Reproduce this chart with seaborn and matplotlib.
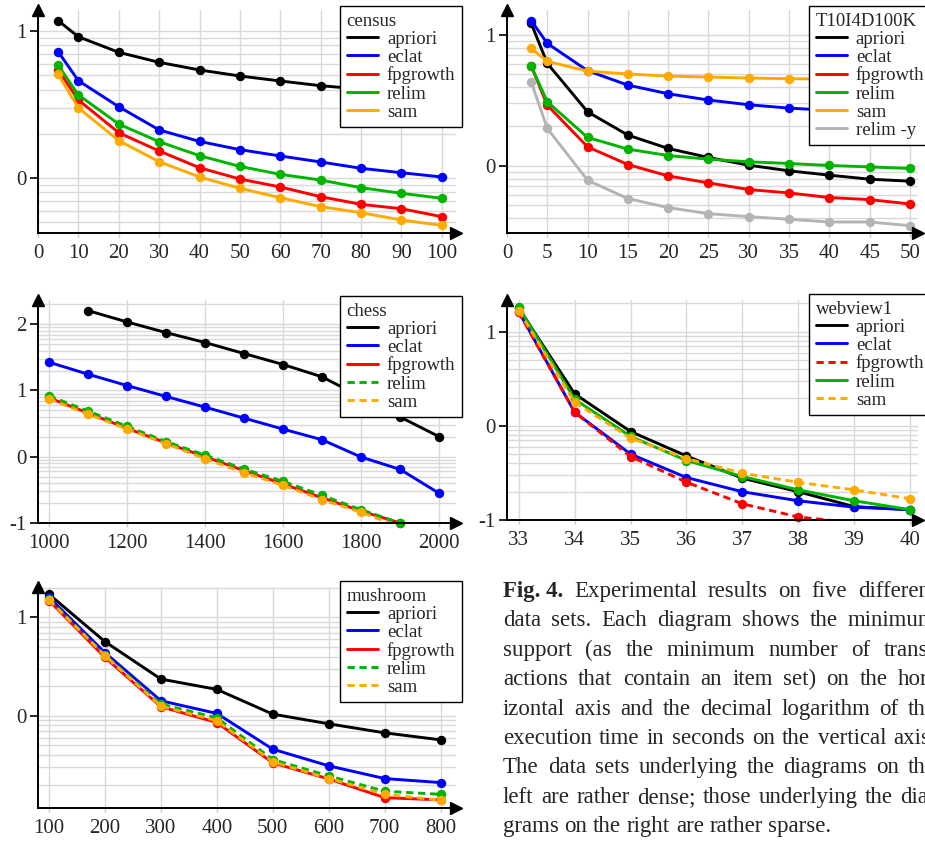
import numpy as np
import pandas as pd
import seaborn as sns
import matplotlib.pyplot as plt
from matplotlib.ticker import FixedLocator, FuncFormatter
from matplotlib.transforms import IdentityTransform

# decimal log of execution time (s) over minimum support
census_x = [5, 10, 20, 30, 40, 50, 60, 70, 80, 90, 100]
census_apriori = [1.070, 0.961, 0.855, 0.787, 0.735, 0.694, 0.660, 0.628, 0.605, 0.580, 0.560]
census_eclat = [0.859, 0.662, 0.485, 0.327, 0.249, 0.193, 0.150, 0.109, 0.066, 0.036, 0.007]
census_fpgrowth = [0.735, 0.531, 0.308, 0.184, 0.070, -0.007, -0.061, -0.127, -0.179, -0.209, -0.263]
census_relim = [0.766, 0.565, 0.367, 0.247, 0.152, 0.079, 0.025, -0.014, -0.066, -0.104, -0.138]
census_sam = [0.705, 0.478, 0.254, 0.111, 0.007, -0.070, -0.134, -0.195, -0.236, -0.286, -0.322]

t10_x = [3, 5, 10, 15, 20, 25, 30, 35, 40, 45, 50]
t10_apriori = [1.089, 0.783, 0.413, 0.235, 0.133, 0.064, 0.005, -0.038, -0.071, -0.102, -0.117]
t10_eclat = [1.110, 0.936, 0.727, 0.617, 0.551, 0.503, 0.467, 0.441, 0.425, 0.410, 0.400]
t10_fpgrowth = [0.763, 0.464, 0.145, 0.010, -0.077, -0.130, -0.181, -0.207, -0.242, -0.258, -0.291]
t10_relim = [0.763, 0.490, 0.217, 0.128, 0.079, 0.051, 0.031, 0.018, 0.003, -0.008, -0.020]
t10_sam = [0.898, 0.798, 0.724, 0.702, 0.686, 0.679, 0.671, 0.666, 0.663, 0.660, 0.658]
t10_relim_y = [0.643, 0.286, -0.110, -0.250, -0.319, -0.365, -0.388, -0.408, -0.429, -0.429, -0.457]

chess_x = [1000, 1100, 1200, 1300, 1400, 1500, 1600, 1700, 1800, 1900, 2000]
chess_apriori = [np.nan, 2.206, 2.035, 1.874, 1.724, 1.558, 1.392, 1.206, 0.900, 0.600, 0.302]
chess_eclat = [1.427, 1.246, 1.075, 0.910, 0.749, 0.583, 0.417, 0.256, -0.005, -0.191, -0.553]
chess_fpgrowth = [0.890, 0.660, 0.430, 0.210, 0.000, -0.210, -0.410, -0.620, -0.820, -1.000, np.nan]
chess_relim = [0.920, 0.690, 0.460, 0.230, 0.025, -0.186, -0.372, -0.583, -0.800, -1.000, np.nan]
chess_sam = [0.874, 0.643, 0.417, 0.196, -0.030, -0.241, -0.432, -0.648, -0.839, -1.060, np.nan]

webview_x = [33, 34, 35, 36, 37, 38, 39, 40]
webview_apriori = [1.250, 0.340, -0.060, -0.320, -0.556, -0.700, -0.858, -0.890]
webview_eclat = [1.214, 0.145, -0.300, -0.549, -0.700, -0.796, -0.864, -0.890]
webview_fpgrowth = [1.207, 0.145, -0.326, -0.598, -0.828, -0.968, -1.030, -1.080]
webview_relim = [1.260, 0.283, -0.113, -0.368, -0.538, -0.680, -0.796, -0.890]
webview_sam = [1.225, 0.250, -0.130, -0.347, -0.503, -0.600, -0.680, -0.775]

mushroom_x = [100, 200, 300, 400, 500, 600, 700, 800]
mushroom_apriori = [1.234, 0.753, 0.373, 0.268, 0.017, -0.081, -0.173, -0.244]
mushroom_eclat = [1.203, 0.641, 0.153, 0.024, -0.339, -0.508, -0.637, -0.678]
mushroom_fpgrowth = [1.170, 0.593, 0.092, -0.068, -0.478, -0.641, -0.831, -0.854]
mushroom_relim = [1.183, 0.617, 0.119, -0.020, -0.444, -0.610, -0.766, -0.797]
mushroom_sam = [1.176, 0.610, 0.098, -0.051, -0.468, -0.637, -0.797, -0.858]

colors = {'apriori': 'black', 'eclat': '#0000ff', 'fpgrowth': '#ff0000',
          'relim': '#00b400', 'sam': '#ffaa00', 'relim -y': '#b4b4b4'}

W, H = 925, 842

# each panel: name, axes rect in pixels (left, top, right, bottom), limits, ticks, series, dashed series, legend corner
panels = [
    ('census', (38, 10, 456, 233), (0, 103.5), (-0.374, 1.143), list(range(0, 101, 10)), [0, 1],
     census_x, [('apriori', census_apriori), ('eclat', census_eclat), ('fpgrowth', census_fpgrowth),
                ('relim', census_relim), ('sam', census_sam)], [], (340, 6)),
    ('T10I4D100K', (507, 10, 918, 233), (0, 51.0), (-0.513, 1.191), list(range(0, 51, 5)), [0, 1],
     t10_x, [('apriori', t10_apriori), ('eclat', t10_eclat), ('fpgrowth', t10_fpgrowth),
             ('relim', t10_relim), ('sam', t10_sam), ('relim -y', t10_relim_y)], [], (809, 6)),
    ('chess', (38, 300, 456, 523), (972, 2043), (-1.0, 2.366), list(range(1000, 2001, 200)), [-1, 0, 1, 2],
     chess_x, [('apriori', chess_apriori), ('eclat', chess_eclat), ('fpgrowth', chess_fpgrowth),
               ('relim', chess_relim), ('sam', chess_sam)], ['relim', 'sam'], (340, 296)),
    ('webview1', (507, 300, 918, 520), (32.79, 40.14), (-1.0, 1.337), list(range(33, 41)), [-1, 0, 1],
     webview_x, [('apriori', webview_apriori), ('eclat', webview_eclat), ('fpgrowth', webview_fpgrowth),
                 ('relim', webview_relim), ('sam', webview_sam)], ['fpgrowth', 'sam'], (809, 294)),
    ('mushroom', (38, 587, 456, 808), (80.3, 827.5), (-0.936, 1.308), list(range(100, 801, 100)), [0, 1],
     mushroom_x, [('apriori', mushroom_apriori), ('eclat', mushroom_eclat), ('fpgrowth', mushroom_fpgrowth),
                  ('relim', mushroom_relim), ('sam', mushroom_sam)], ['relim', 'sam'], (340, 581)),
]

sns.set_theme(style='white')
plt.rcParams['font.family'] = ['Liberation Serif', 'DejaVu Serif']
plt.rcParams['axes.unicode_minus'] = False

fig = plt.figure(figsize=(W / 100, H / 100), dpi=100)
grid_color = '#d9d9d9'

for name, (l, t, r, b), xlim, ylim, xticks, yticks, xs, series, dashed, (lx, ly) in panels:
    ax = fig.add_axes([l / W, 1 - b / H, (r - l) / W, (b - t) / H])

    for i, (algo, ys) in enumerate(series):
        df = pd.DataFrame({'x': xs, 'y': ys}).dropna()
        ls = (0, (2.5, 1.6)) if algo in dashed else '-'
        sns.lineplot(data=df, x='x', y='y', color=colors[algo], linewidth=2.1,
                     linestyle=ls, label=algo, ax=ax, zorder=2 + i * 0.1)
        pts = df[df['y'] >= ylim[0] - 0.005]
        sns.scatterplot(data=pts, x='x', y='y', color=colors[algo], s=46, linewidth=0,
                        ax=ax, clip_on=False, zorder=2.05 + i * 0.1, legend=False)

    ax.set_xlim(*xlim)
    ax.set_ylim(*ylim)
    ax.set_xlabel('')
    ax.set_ylabel('')

    # decimal-log minor grid between the integer ticks
    minor = []
    for k in range(int(np.floor(ylim[0])) - 1, int(np.ceil(ylim[1])) + 1):
        for m in range(2, 10):
            v = k + np.log10(m)
            if ylim[0] < v < ylim[1]:
                minor.append(v)
    ax.xaxis.set_major_locator(FixedLocator(xticks))
    ax.yaxis.set_major_locator(FixedLocator(yticks))
    ax.yaxis.set_minor_locator(FixedLocator(minor))
    ax.yaxis.set_major_formatter(FuncFormatter(lambda v, p: '%d' % round(v)))
    ax.set_axisbelow(True)
    ax.grid(True, axis='x', which='major', color=grid_color, linewidth=1.0)
    ax.grid(True, axis='y', which='both', color=grid_color, linewidth=1.0)

    ax.tick_params(axis='x', which='major', length=3, width=1.0, color='#c8c8c8',
                   pad=5, labelsize=15, bottom=True)
    ax.tick_params(axis='y', which='major', length=6, width=1.2, color='black',
                   pad=2, labelsize=15, left=True)
    ax.tick_params(axis='y', which='minor', length=0)

    sns.despine(ax=ax)
    for side in ['left', 'bottom']:
        ax.spines[side].set_color('black')
        ax.spines[side].set_linewidth(1.4)
    ax.plot(1, 0, '>', color='black', ms=8, transform=ax.transAxes, clip_on=False, zorder=6)
    ax.plot(0, 1, '^', color='black', ms=8, transform=ax.transAxes, clip_on=False, zorder=6)

    leg = ax.legend(title=name, loc='upper left', bbox_to_anchor=(lx / W, 1 - ly / H),
                    bbox_transform=fig.transFigure, borderaxespad=0, alignment='left',
                    frameon=True, fancybox=False, edgecolor='black', framealpha=1,
                    fontsize=13.5, title_fontsize=13.5, handlelength=1.7, handletextpad=0.45,
                    borderpad=0.35, labelspacing=0.05)
    leg.get_frame().set_linewidth(1.0)
    leg.set_zorder(10)

# justified caption at lower right
caption = [
    "Fig. 4. Experimental results on five different",
    "data sets. Each diagram shows the minimum",
    "support (as the minimum number of trans-",
    "actions that contain an item set) on the hor-",
    "izontal axis and the decimal logarithm of the",
    "execution time in seconds on the vertical axis.",
    "The data sets underlying the diagrams on the",
    "left are rather dense; those underlying the dia-",
    "grams on the right are rather sparse.",
]
cap_size = 16.5
cap_left, cap_right = 503, 936
renderer = fig.canvas.get_renderer()
for i, line in enumerate(caption):
    words = line.split()
    if i == 0:
        words = ['Fig. 4.'] + words[2:]
    base = H - (597 + i * 29.4)
    items = []
    for j, w in enumerate(words):
        weight = 'bold' if (i == 0 and j == 0) else 'normal'
        items.append(fig.text(0, base, w, transform=IdentityTransform(), fontsize=cap_size,
                              fontweight=weight, va='baseline', ha='left'))
    widths = [it.get_window_extent(renderer).width for it in items]
    if i < len(caption) - 1:
        gap = (cap_right - cap_left - sum(widths)) / (len(words) - 1)
    else:
        gap = 0.25 * cap_size * 100 / 72
    x = cap_left
    for it, w in zip(items, widths):
        it.set_x(x)
        x += w + gap

fig.savefig('out.png', dpi=100)
